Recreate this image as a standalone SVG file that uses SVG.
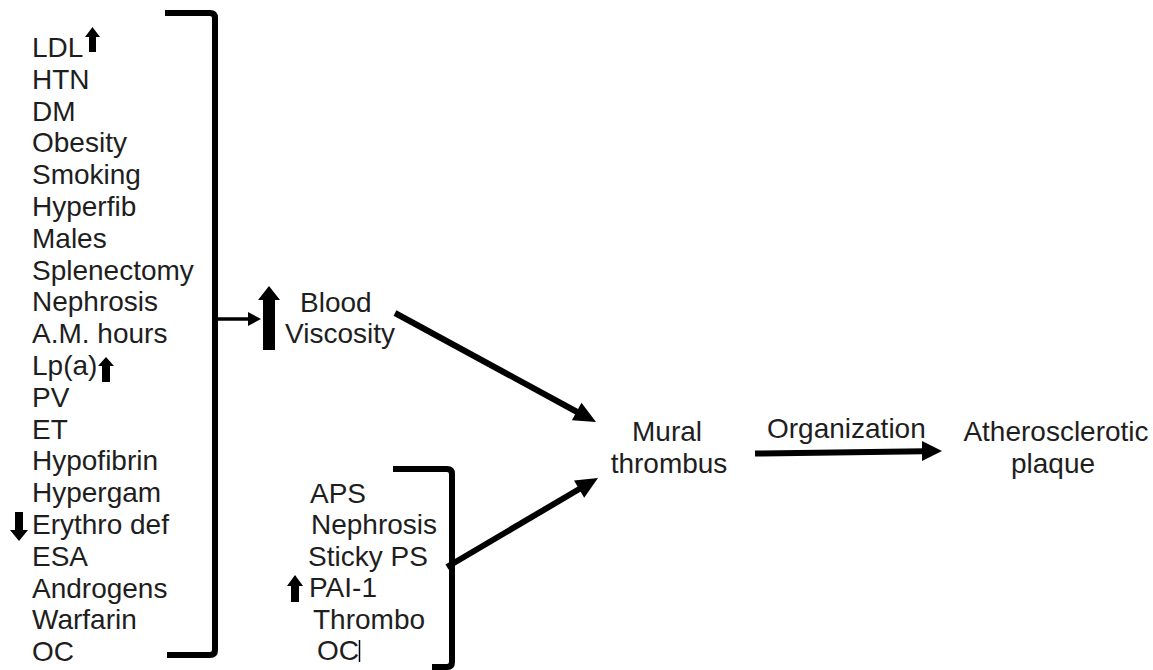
<svg xmlns="http://www.w3.org/2000/svg" width="1153" height="670" viewBox="0 0 1153 670">
<style>
text{font-family:"Liberation Sans",Arial,sans-serif;font-size:28px;fill:#1e1e1e}
.br{fill:none;stroke:#000;stroke-width:6;stroke-linejoin:round}
.ln{stroke:#000;stroke-width:6;fill:none}
.thin{stroke:#000;stroke-width:3.5;fill:none}
.hd{fill:#000}
</style>
<rect width="1153" height="670" fill="#fff"/>
<g id="risk-list">
<text x="32" y="57">LDL</text>
<text x="32" y="88.8">HTN</text>
<text x="32" y="120.6">DM</text>
<text x="32" y="152.4">Obesity</text>
<text x="32" y="184.2">Smoking</text>
<text x="32" y="216">Hyperfib</text>
<text x="32" y="247.8">Males</text>
<text x="32" y="279.6">Splenectomy</text>
<text x="32" y="311.4">Nephrosis</text>
<text x="32" y="343.2">A.M. hours</text>
<text x="32" y="375">Lp(a)</text>
<text x="32" y="406.8">PV</text>
<text x="32" y="438.6">ET</text>
<text x="32" y="470.4">Hypofibrin</text>
<text x="32" y="502.2">Hypergam</text>
<text x="32" y="534">Erythro def</text>
<text x="32" y="565.8">ESA</text>
<text x="32" y="597.6">Androgens</text>
<text x="32" y="629.4">Warfarin</text>
<text x="32" y="661.2">OC</text>
<polygon class="hd" points="85,37 92.5,27 100,37 96,37 96,52 89,52 89,37"/>
<polygon class="hd" points="98,366 106,357 114,366 110,366 110,382 102,382 102,366"/>
<polygon class="hd" points="10,530 15,530 15,512 23,512 23,530 28,530 19,541"/>
<path class="br" d="M165,13 L210,13 Q215,13 215,18 L215,650 Q215,655 210,655 L167,655"/>
</g>
<g id="blood-viscosity">
<polygon class="hd" points="258,300 269,286 280,300 275,300 275,350 263,350 263,300"/>
<text x="300" y="312">Blood</text>
<text x="285" y="343">Viscosity</text>
</g>
<g id="platelet-list">
<text x="310" y="503">APS</text>
<text x="311" y="534.4">Nephrosis</text>
<text x="308" y="565.8">Sticky PS</text>
<text x="309" y="597.2">PAI-1</text>
<text x="313" y="628.6">Thrombo</text>
<text x="317" y="660">OC</text>
<line x1="359.5" y1="640" x2="359.5" y2="662" stroke="#000" stroke-width="1.5"/>
<polygon class="hd" points="287,586 295,575 303,586 299,586 299,602 291,602 291,586"/>
<path class="br" d="M393,469 L447,469 Q452,469 452,474 L452,662 Q452,667 447,667 L432,667"/>
</g>
<g id="mural-thrombus">
<text x="667" y="441" text-anchor="middle">Mural</text>
<text x="669" y="473" text-anchor="middle">thrombus</text>
</g>
<g id="plaque">
<text x="1056" y="441" text-anchor="middle">Atherosclerotic</text>
<text x="1053" y="473" text-anchor="middle">plaque</text>
</g>
<g id="connectors">
<line class="thin" x1="216" y1="319" x2="250" y2="319"/>
<polygon class="hd" points="248,312 261,319 248,326"/>
<line class="ln" x1="395" y1="313" x2="579" y2="413"/>
<polygon class="hd" points="571.9,420.3 596,422 581.5,402.7"/>
<line class="ln" x1="447" y1="567" x2="581" y2="488"/>
<polygon class="hd" points="584.2,497.8 598,478 574,480.6"/>
<line class="ln" x1="755" y1="453.5" x2="924" y2="451.3"/>
<polygon class="hd" points="922,441 942,451 922,461"/>
<text x="767" y="438">Organization</text>
</g>
</svg>
